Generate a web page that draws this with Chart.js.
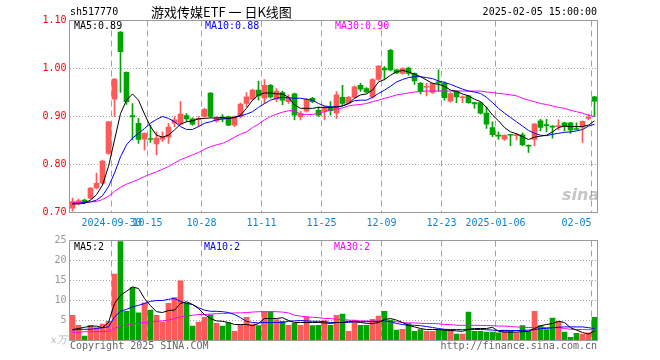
<!DOCTYPE html>
<html><head><meta charset="utf-8">
<script src="https://cdn.jsdelivr.net/npm/chart.js@4.4.1/dist/chart.umd.min.js"></script>
<style>
html,body{margin:0;padding:0;background:#fff;}
#wrap{position:relative;width:660px;height:360px;overflow:hidden;background:#fff;}
canvas{position:absolute;left:0;top:0;width:660px;height:360px;}
.t{position:absolute;white-space:pre;font-family:"DejaVu Sans Mono",monospace;font-size:10px;line-height:14px;height:14px;}
</style></head><body>
<div id="wrap">
<canvas id="pc" width="660" height="360"></canvas>
<canvas id="vc" width="660" height="360"></canvas>
<div class="t" style="left:70px;top:5px;color:#000">sh517770</div>
<div class="t" style="left:151px;top:4px;font-family:'Noto Sans CJK SC';font-size:13px;line-height:16px;height:16px;color:#000">游戏传媒ETF 一 日K线图</div>
<div class="t" style="right:63px;top:5px;color:#000">2025-02-05 15:00:00</div>
<div class="t" style="left:74px;top:19px;color:#000">MA5:0.89</div>
<div class="t" style="left:205px;top:19px;color:#0000ff">MA10:0.88</div>
<div class="t" style="left:335px;top:19px;color:#ff00ff">MA30:0.90</div>
<div class="t" style="left:74px;top:240px;color:#000">MA5:2</div>
<div class="t" style="left:204px;top:240px;color:#0000ff">MA10:2</div>
<div class="t" style="left:334px;top:240px;color:#ff00ff">MA30:2</div>
<div class="t" style="left:70px;top:339px;color:#666">Copyright 2025 SINA.COM</div>
<div class="t" style="right:63px;top:339px;color:#666">http://finance.sina.com.cn</div>
<div class="t" style="left:562px;top:186px;font-family:'DejaVu Sans';font-style:italic;font-weight:bold;font-size:16px;line-height:18px;height:18px;color:rgba(150,150,150,0.55)">sina</div>
</div>
<script>
const dates = ['2024-09-19','2024-09-20','2024-09-23','2024-09-24','2024-09-25','2024-09-26','2024-09-27','2024-09-30',
'2024-10-08','2024-10-09','2024-10-10','2024-10-11','2024-10-14','2024-10-15','2024-10-16','2024-10-17','2024-10-18','2024-10-21','2024-10-22','2024-10-23','2024-10-24','2024-10-25','2024-10-28','2024-10-29','2024-10-30','2024-10-31',
'2024-11-01','2024-11-04','2024-11-05','2024-11-06','2024-11-07','2024-11-08','2024-11-11','2024-11-12','2024-11-13','2024-11-14','2024-11-15','2024-11-18','2024-11-19','2024-11-20','2024-11-21','2024-11-22','2024-11-25','2024-11-26','2024-11-27','2024-11-28','2024-11-29',
'2024-12-02','2024-12-03','2024-12-04','2024-12-05','2024-12-06','2024-12-09','2024-12-10','2024-12-11','2024-12-12','2024-12-13','2024-12-16','2024-12-17','2024-12-18','2024-12-19','2024-12-20','2024-12-23','2024-12-24','2024-12-25','2024-12-26','2024-12-27','2024-12-30','2024-12-31',
'2025-01-02','2025-01-03','2025-01-06','2025-01-07','2025-01-08','2025-01-09','2025-01-10','2025-01-13','2025-01-14','2025-01-15','2025-01-16','2025-01-17','2025-01-20','2025-01-21','2025-01-22','2025-01-23','2025-01-24','2025-01-27',
'2025-02-05'];

const opens  = [0.709,0.719,0.726,0.730,0.751,0.761,0.823,0.936,1.076,0.992,0.902,0.886,0.853,0.854,0.843,0.853,0.857,0.886,0.884,0.902,0.895,0.894,0.900,0.949,0.891,0.899,0.900,0.882,0.900,0.927,0.936,0.955,0.938,0.965,0.936,0.950,0.931,0.947,0.899,0.911,0.938,0.913,0.911,0.919,0.907,0.940,0.928,0.940,0.965,0.958,0.941,0.977,1.001,1.038,0.997,0.990,1.001,0.990,0.969,0.961,0.950,0.972,0.969,0.932,0.953,0.939,0.943,0.929,0.929,0.907,0.877,0.861,0.853,0.862,0.860,0.862,0.839,0.852,0.891,0.883,0.880,0.879,0.887,0.887,0.874,0.878,0.896,0.941];
const highs  = [0.730,0.728,0.728,0.752,0.782,0.809,0.890,0.979,1.077,0.993,0.927,0.896,0.866,0.882,0.868,0.868,0.886,0.900,0.931,0.906,0.897,0.900,0.917,0.950,0.900,0.904,0.901,0.901,0.928,0.950,0.957,0.974,0.977,0.967,0.958,0.953,0.945,0.949,0.911,0.938,0.940,0.920,0.921,0.931,0.952,0.965,0.942,0.964,0.969,0.960,0.979,1.006,1.004,1.040,0.998,1.002,1.003,0.991,0.971,0.969,0.970,0.997,0.972,0.950,0.954,0.943,0.944,0.930,0.930,0.920,0.889,0.868,0.862,0.863,0.865,0.866,0.841,0.886,0.894,0.894,0.881,0.893,0.888,0.888,0.887,0.891,0.905,0.942];
const lows   = [0.703,0.716,0.719,0.728,0.749,0.759,0.821,0.900,0.950,0.925,0.851,0.844,0.830,0.846,0.820,0.848,0.844,0.879,0.882,0.889,0.882,0.879,0.898,0.898,0.888,0.889,0.881,0.879,0.897,0.920,0.934,0.934,0.927,0.938,0.931,0.924,0.927,0.893,0.893,0.909,0.929,0.900,0.893,0.903,0.896,0.924,0.926,0.938,0.952,0.949,0.938,0.975,0.976,0.995,0.989,0.988,0.986,0.967,0.947,0.943,0.948,0.952,0.934,0.930,0.929,0.929,0.927,0.917,0.905,0.875,0.858,0.852,0.850,0.839,0.851,0.839,0.825,0.839,0.870,0.868,0.855,0.872,0.870,0.865,0.872,0.846,0.893,0.900];
const closes = [0.723,0.725,0.721,0.751,0.761,0.807,0.889,0.978,1.035,0.931,0.899,0.852,0.865,0.852,0.855,0.857,0.878,0.893,0.905,0.895,0.884,0.896,0.915,0.900,0.897,0.895,0.882,0.900,0.926,0.941,0.955,0.943,0.965,0.941,0.953,0.934,0.939,0.903,0.906,0.936,0.931,0.903,0.919,0.912,0.945,0.927,0.940,0.962,0.957,0.951,0.977,1.005,0.997,0.997,0.991,1.000,0.990,0.974,0.953,0.963,0.969,0.970,0.939,0.948,0.941,0.941,0.929,0.926,0.907,0.884,0.862,0.859,0.861,0.861,0.862,0.841,0.838,0.884,0.877,0.881,0.878,0.881,0.880,0.872,0.873,0.890,0.898,0.932];

const ma5  = [0.718,0.718,0.719,0.726,0.737,0.757,0.796,0.851,0.906,0.934,0.947,0.934,0.905,0.879,0.861,0.857,0.861,0.872,0.884,0.889,0.891,0.895,0.896,0.897,0.897,
0.898,0.896,0.898,0.903,0.917,0.934,0.945,0.949,0.949,0.947,0.947,0.940,0.924,0.917,0.917,0.917,0.919,0.919,0.919,0.920,0.922,0.927,0.938,0.945,0.947,0.955,0.972,0.977,0.986,0.993,0.996,0.993,0.988,
0.983,0.976,0.969,0.967,0.963,0.955,0.952,0.947,0.943,0.936,0.931,0.919,0.903,0.891,0.877,0.868,0.864,0.858,0.852,0.857,0.859,0.861,0.868,0.877,0.880,0.879,0.879,0.879,0.882,0.891];
const ma10 = [0.718,0.719,0.721,0.722,0.726,0.735,0.754,0.782,0.816,0.841,0.855,0.865,0.875,0.886,0.894,0.900,0.896,0.889,0.879,0.873,0.873,0.879,0.886,0.889,0.893,
0.895,0.896,0.898,0.901,0.905,0.910,0.919,0.927,0.934,0.938,0.940,0.939,0.938,0.938,0.936,0.934,0.927,0.922,0.920,0.920,0.922,0.927,0.933,0.934,0.934,0.940,0.948,0.955,0.963,0.972,0.977,0.981,0.983,
0.983,0.981,0.979,0.974,0.971,0.967,0.962,0.957,0.953,0.951,0.948,0.940,0.929,0.917,0.907,0.898,0.889,0.880,0.871,0.865,0.861,0.860,0.863,0.865,0.867,0.868,0.870,0.873,0.880,0.884];
const ma30 = [0.721,0.721,0.7215,0.722,0.723,0.727,0.734,0.744,0.753,0.759,0.764,0.769,0.775,0.780,0.785,0.790,0.796,0.803,0.810,0.815,0.820,0.825,0.832,0.837,0.841,
0.844,0.850,0.857,0.863,0.868,0.877,0.884,0.893,0.900,0.905,0.909,0.912,0.912,0.905,0.904,0.904,0.907,0.910,0.913,0.916,0.918,0.922,0.924,0.925,0.927,0.931,0.934,0.938,0.941,0.945,0.947,0.949,0.951,
0.952,0.953,0.953,0.953,0.953,0.953,0.953,0.953,0.953,0.953,0.953,0.951,0.950,0.948,0.947,0.945,0.943,0.938,0.934,0.931,0.927,0.925,0.922,0.919,0.917,0.913,0.910,0.907,0.902,0.900];

const volumes = [6.3,3.8,1.1,3.8,3.25,4.1,4.8,16.6,24.7,7.3,13.2,6.9,9.4,7.6,6.3,4.6,9.3,10.7,14.9,9.4,3.6,4.6,5.8,6.4,4.3,3.6,4.4,2.3,3.8,5.8,4.1,3.7,7.2,7.2,5.25,4.8,3.8,4.3,3.8,5.9,3.7,3.8,5.0,3.8,6.3,6.6,2.3,5.1,3.8,3.8,5.3,6.1,7.3,5.1,2.6,2.8,4.25,2.3,2.75,2.3,2.3,2.75,2.75,2.75,1.6,1.6,7.1,2.3,2.3,2.1,2.1,1.9,2.6,2.3,1.9,3.7,2.3,7.3,3.7,2.75,5.6,4.7,2.1,0.8,1.8,1.6,1.9,5.8];
const vma5  = [2.75,3.0,3.3,3.6,3.6,3.2,4.5,9.25,11.3,12.3,13.4,13.0,10.5,8.7,7.2,7.0,7.5,7.6,9.25,9.7,9.0,8.0,6.5,5.5,4.9,4.8,4.5,4.0,4.0,4.0,3.7,4.25,5.5,5.5,5.5,5.7,5.0,4.5,4.5,4.5,4.5,4.5,4.4,
4.25,4.5,4.5,4.8,4.7,4.5,4.3,4.25,4.5,5.25,5.5,5.1,4.5,3.8,3.4,3.0,2.75,2.75,2.75,2.6,2.5,2.4,2.3,2.8,3.0,3.0,3.0,3.3,2.3,2.1,2.1,2.1,2.2,2.3,3.0,3.7,4.0,4.25,4.8,4.5,3.2,2.6,2.0,1.6,2.4];
const vma10 = [2.6,2.75,2.8,2.8,3.0,3.2,3.4,5.9,7.3,7.8,8.4,8.8,9.25,9.8,10.0,10.0,10.3,10.5,9.8,9.25,9.0,8.2,7.6,7.3,7.3,7.2,7.0,6.5,5.7,4.8,4.5,4.4,4.5,4.5,4.5,4.5,4.8,4.9,5.0,4.9,4.8,4.8,4.7,
4.5,4.5,4.5,4.5,4.7,4.7,4.7,4.8,4.8,4.9,4.7,4.25,4.0,3.8,3.8,3.7,3.5,3.25,3.0,2.8,2.75,2.75,2.7,2.75,2.75,2.75,2.7,2.6,2.5,2.5,2.5,2.5,2.5,2.6,2.7,3.0,3.0,3.2,3.3,3.4,3.4,3.4,3.4,3.2,3.0];
const vma30 = [2.0,2.1,2.2,2.2,2.2,2.25,2.3,3.0,3.7,3.8,4.2,4.3,4.5,4.7,4.8,4.9,5.1,5.5,5.9,6.2,6.3,6.5,6.5,6.6,6.7,6.75,6.8,6.9,6.9,7.0,7.1,7.2,7.2,7.2,7.2,7.1,6.9,6.3,6.1,5.9,5.8,5.7,5.5,
5.5,5.3,5.25,5.1,5.0,4.9,4.9,4.8,4.8,4.75,4.7,4.7,4.5,4.4,4.4,4.3,4.25,4.25,4.2,4.0,4.0,3.8,3.8,3.8,3.8,3.75,3.75,3.7,3.6,3.6,3.5,3.4,3.3,3.25,3.25,3.25,3.25,3.25,3.2,3.0,2.8,2.75,2.75,2.7,2.7];

const priceTicks = [0.70,0.80,0.90,1.00,1.10];
const volTicks = [0,5,10,15,20,25];
const xTickDates = ['2024-09-30','2024-10-15','2024-10-28','2024-11-11','2024-11-25','2024-12-09','2024-12-23','2025-01-06','2025-02-05'];
const xTickText  = ['2024-09-30','10-15','10-28','11-11','11-25','12-09','12-23','2025-01-06','02-05     '];

const RED = '#ff5a5a', GREEN = '#00a400';
const colors = opens.map((o,i)=> closes[i] >= o ? RED : GREEN);
const MONO = 'DejaVu Sans Mono';
const TRANSP = 'rgba(0,0,0,0)';
const isTick = i => dates[i] !== undefined && xTickDates.indexOf(dates[i]) >= 0;

const framePlugin = {
  id: 'frame',
  afterDraw(chart) {
    const a = chart.chartArea, ctx = chart.ctx;
    ctx.save();
    ctx.strokeStyle = '#9a9a9a'; ctx.lineWidth = 1;
    ctx.strokeRect(a.left, a.top, a.right - a.left, a.bottom - a.top);
    ctx.restore();
  }
};

function xScale(showLabels) {
  return {
    type: 'category', offset: true,
    grid: { offset: true, drawTicks: false, lineWidth: 1, color: c => isTick(c.index) ? '#a2a2a2' : TRANSP },
    border: { display: false, dash: [6, 4] },
    ticks: {
      display: showLabels, autoSkip: false, maxRotation: 0, minRotation: 0, labelOffset: -3, padding: 5,
      color: '#0a84d6', font: { family: MONO, size: 10 },
      callback: (v, i) => { const k = xTickDates.indexOf(dates[i]); return k >= 0 ? xTickText[k] : ''; }
    },
    afterFit: s => { s.height = showLabels ? 20 : 0; }
  };
}

const lineDs = (data, color) => ({ type: 'line', data, borderColor: color, borderWidth: 1, pointRadius: 0, fill: false, tension: 0, order: 0 });

new Chart(document.getElementById('pc'), {
  type: 'bar',
  data: {
    labels: dates,
    datasets: [
      lineDs(ma5, '#000000'), lineDs(ma10, '#0000ff'), lineDs(ma30, '#ff00ff'),
      { type: 'bar', data: opens.map((o,i)=>[o, closes[i]]), backgroundColor: colors, barThickness: 5, minBarLength: 1, grouped: false, order: 1 },
      { type: 'bar', data: lows.map((l,i)=>[l, highs[i]]), backgroundColor: colors, barThickness: 1, grouped: false, order: 2 }
    ]
  },
  options: {
    responsive: false, animation: false, events: [],
    layout: { padding: { left: 0, top: 20.5, right: 62.5, bottom: 127.5 } },
    plugins: { legend: { display: false }, tooltip: { enabled: false } },
    scales: {
      x: xScale(true),
      y: {
        type: 'linear', min: 0.70, max: 1.10,
        afterBuildTicks: s => { s.ticks = priceTicks.map(v => ({ value: v })); },
        grid: { drawTicks: false, color: c => (c.tick && (c.tick.value <= 0.7001 || c.tick.value >= 1.0999)) ? TRANSP : '#a8a8a8' },
        border: { display: false, dash: [1, 2] },
        ticks: { padding: 3, color: '#ff0000', font: { family: MONO, size: 10 }, callback: v => Number(v).toFixed(2) },
        afterFit: s => { s.width = 69.5; }
      }
    }
  },
  plugins: [framePlugin]
});

new Chart(document.getElementById('vc'), {
  type: 'bar',
  data: {
    labels: dates,
    datasets: [
      lineDs(vma5, '#000000'), lineDs(vma10, '#0000ff'), lineDs(vma30, '#ff00ff'),
      { type: 'bar', data: volumes, backgroundColor: colors, barThickness: 5, grouped: false, order: 1 }
    ]
  },
  options: {
    responsive: false, animation: false, events: [],
    layout: { padding: { left: 0, top: 240.5, right: 62.5, bottom: 19.5 } },
    plugins: { legend: { display: false }, tooltip: { enabled: false } },
    scales: {
      x: xScale(false),
      y: {
        type: 'linear', min: 0, max: 25,
        afterBuildTicks: s => { s.ticks = volTicks.map(v => ({ value: v })); },
        grid: { drawTicks: false, color: c => (c.tick && (c.tick.value <= 0 || c.tick.value >= 25)) ? TRANSP : '#a8a8a8' },
        border: { display: false, dash: [1, 2] },
        ticks: {
          padding: 3,
          color: c => (c.tick && c.tick.value === 0) ? '#b4b4b4' : '#999999',
          font: c => (c.tick && c.tick.value === 0) ? { family: 'DejaVu Serif', size: 10, style: 'italic' } : { family: MONO, size: 10 },
          callback: v => v === 0 ? 'x万' : String(v)
        },
        afterFit: s => { s.width = 69.5; }
      }
    }
  },
  plugins: [framePlugin]
});
</script>
</body></html>
